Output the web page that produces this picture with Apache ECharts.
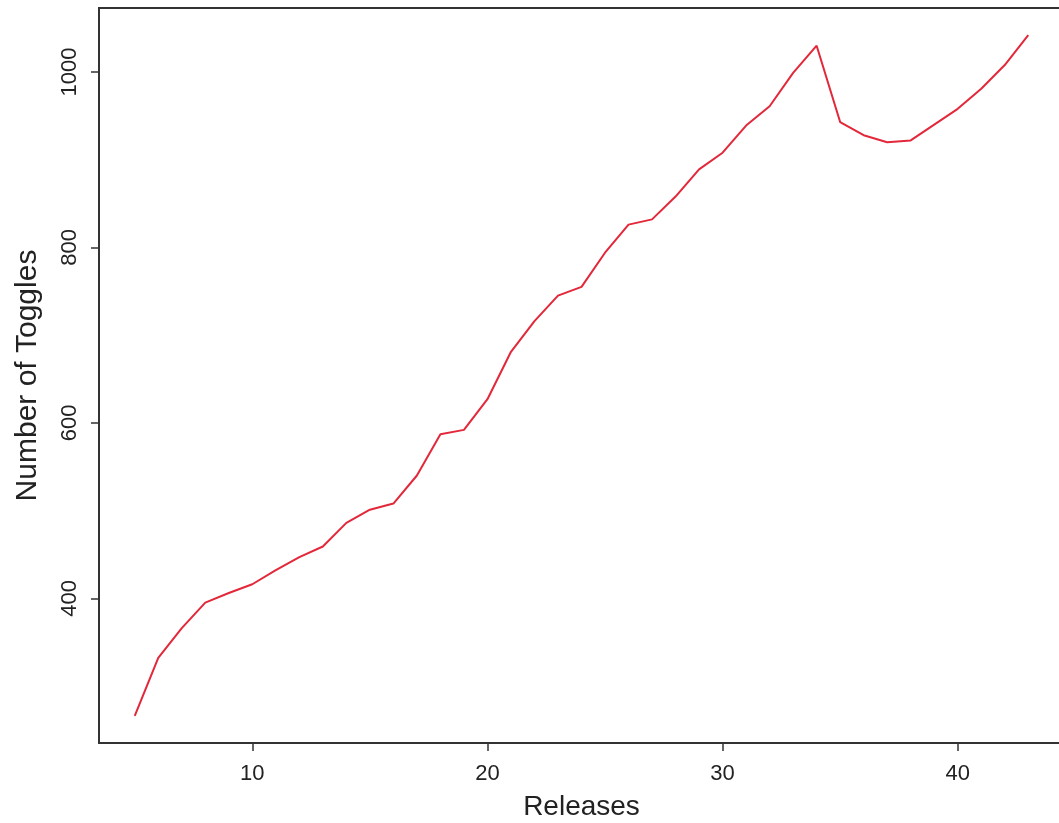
<!DOCTYPE html>
<html>
<head>
<meta charset="utf-8">
<script src="https://cdn.jsdelivr.net/npm/echarts@6/dist/echarts.min.js"></script>
<style>
  html, body { margin: 0; padding: 0; background: #fff; }
  #chart { width: 1059px; height: 823px; }
</style>
</head>
<body>
<div id="chart"></div>
<script>
// releases on x, toggle counts on y
const releases = [5, 6, 7, 8, 9, 10, 11, 12, 13, 14, 15, 16, 17, 18, 19, 20, 21, 22, 23, 24,
  25, 26, 27, 28, 29, 30, 31, 32, 33, 34, 35, 36, 37, 38, 39, 40, 41, 42, 43];
const toggles = [266, 332, 366, 395, 406, 416, 432, 447, 459, 486, 501, 508, 540, 587, 592, 627, 681, 716, 745, 755,
  794, 826, 832, 858, 889, 908, 939, 961, 999, 1030, 943, 928, 920, 922, 940, 958, 981, 1008, 1042];
const xTicks = [10, 20, 30, 40];
const yTicks = [400, 600, 800, 1000];

const font = '"Liberation Sans", Arial, Helvetica, sans-serif';
const axisColor = '#333';

const chart = echarts.init(document.getElementById('chart'));
chart.setOption({
  animation: false,
  backgroundColor: '#fff',
  grid: {
    // plot box runs past the right edge of the picture, like the original
    left: 99, top: 8, right: -5, bottom: 80,
    outerBoundsMode: 'none',
    show: true, borderColor: axisColor, borderWidth: 2, backgroundColor: 'transparent'
  },
  xAxis: {
    type: 'value',
    min: 3.48, max: 44.52,
    name: 'Releases',
    nameLocation: 'middle',
    nameGap: 50,
    nameTextStyle: { fontFamily: font, fontSize: 28, color: '#222' },
    axisLine: { show: true, onZero: false, lineStyle: { color: axisColor, width: 2 } },
    axisTick: { show: true, length: 8, customValues: xTicks, lineStyle: { color: axisColor, width: 1.5 } },
    axisLabel: { customValues: xTicks, margin: 20, fontFamily: font, fontSize: 22, color: '#222' },
    splitLine: { show: false }
  },
  yAxis: {
    type: 'value',
    min: 235, max: 1073,
    name: 'Number of Toggles',
    nameLocation: 'middle',
    nameGap: 56,
    nameTextStyle: { fontFamily: font, fontSize: 30, color: '#222' },
    axisLine: { show: true, onZero: false, lineStyle: { color: axisColor, width: 2 } },
    axisTick: { show: true, length: 8, customValues: yTicks, lineStyle: { color: axisColor, width: 1.5 } },
    axisLabel: {
      customValues: yTicks, rotate: 90, margin: 18,
      formatter: v => String(v),
      fontFamily: font, fontSize: 22, color: '#222'
    },
    splitLine: { show: false }
  },
  series: [{
    type: 'line',
    data: releases.map((r, i) => [r, toggles[i]]),
    showSymbol: false,
    lineStyle: { color: '#e2283a', width: 2 },
    clip: true
  }]
});
</script>
</body>
</html>
